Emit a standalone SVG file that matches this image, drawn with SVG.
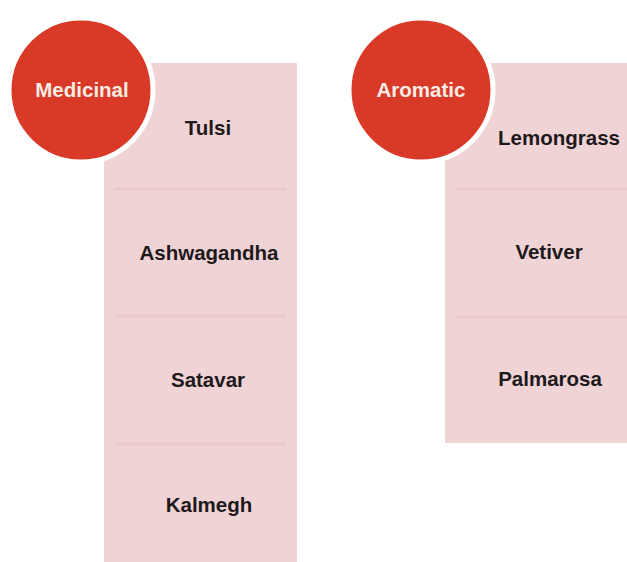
<svg xmlns="http://www.w3.org/2000/svg" width="627" height="562" viewBox="0 0 627 562">
  <style>
    .col { fill: #EFD3D5; }
    .sep { stroke: #E9C9CC; stroke-width: 3; fill: none; }
    .circ { fill: #D93A28; stroke: #FFFFFF; stroke-width: 5; }
    .ctext { font-family: "Liberation Sans", Arial, sans-serif; font-weight: bold; font-size: 20.5px; fill: #F5ECE4; text-anchor: middle; }
    .item { font-family: "Liberation Sans", Arial, sans-serif; font-weight: bold; font-size: 20.5px; fill: #1E1A1C; text-anchor: middle; }
  </style>
  <rect width="627" height="562" fill="#FFFFFF"/>
  <g id="medicinal-column">
    <rect class="col" x="104" y="63" width="193" height="499"/>
    <line class="sep" x1="116" y1="189" x2="286" y2="189"/>
    <line class="sep" x1="116" y1="316" x2="286" y2="316"/>
    <line class="sep" x1="116" y1="444" x2="286" y2="444"/>
  </g>
  <g id="aromatic-column">
    <rect class="col" x="445" y="63" width="182" height="380"/>
    <line class="sep" x1="457" y1="189" x2="627" y2="189"/>
    <line class="sep" x1="457" y1="317" x2="627" y2="317"/>
  </g>
  <g id="tulsi"><text class="item" x="208" y="135">Tulsi</text></g>
  <g id="ashwagandha"><text class="item" x="209" y="260">Ashwagandha</text></g>
  <g id="satavar"><text class="item" x="208" y="387">Satavar</text></g>
  <g id="kalmegh"><text class="item" x="209" y="512">Kalmegh</text></g>
  <g id="lemongrass"><text class="item" x="559" y="145">Lemongrass</text></g>
  <g id="vetiver"><text class="item" x="549" y="259">Vetiver</text></g>
  <g id="palmarosa"><text class="item" x="550" y="386">Palmarosa</text></g>
  <g id="medicinal">
    <circle class="circ" cx="81" cy="90" r="72"/>
    <text class="ctext" x="82" y="97">Medicinal</text>
  </g>
  <g id="aromatic">
    <circle class="circ" cx="421" cy="90" r="72"/>
    <text class="ctext" x="421" y="97">Aromatic</text>
  </g>
  <g id="connectors"/>
</svg>
